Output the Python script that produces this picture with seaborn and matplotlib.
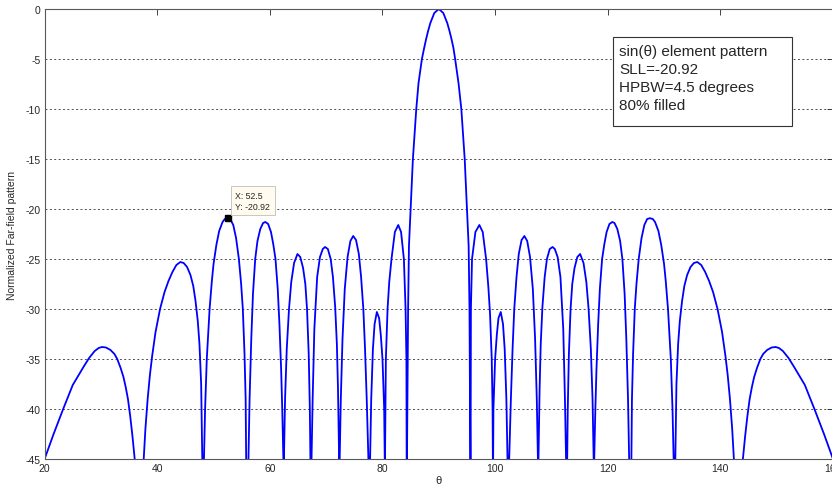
import numpy as np
import matplotlib
matplotlib.use("Agg")
import matplotlib.pyplot as plt
from matplotlib.patches import Rectangle
import seaborn as sns

# far-field pattern (theta in degrees, pattern in dB)
# one row per lobe; the -60 dB points sit in the nulls, below the visible range
theta_deg = [
    20.0, 21.6, 23.3, 25.0, 26.9, 27.9, 28.9, 29.6, 30.2, 30.9, 31.7, 32.4, 32.9, 33.5, 34.0, 34.4, 34.8, 35.2, 35.6, 36.0, 36.8,
    37.6, 37.9, 38.3, 38.7, 39.1, 39.7, 40.5, 41.3, 42.0, 42.7, 43.4, 44.1, 44.7, 45.3, 45.9, 46.4, 46.8, 47.2, 47.5, 47.8, 48.0, 48.15,
    48.3, 48.5, 48.8, 49.3, 49.7, 50.0, 50.5, 51.0, 51.6, 52.0, 52.5, 53.0, 53.5, 54.0, 54.5, 54.9, 55.2, 55.5, 55.7, 55.8, 56.0,
    56.2, 56.4, 56.7, 57.0, 57.4, 57.8, 58.3, 58.8, 59.2, 59.7, 60.2, 60.6, 61.0, 61.4, 61.7, 62.0, 62.2, 62.4, 62.45,
    62.5, 62.7, 63.0, 63.4, 63.8, 64.3, 64.9, 65.4, 65.9, 66.3, 66.6, 66.9, 67.1, 67.2, 67.3,
    67.4, 67.6, 67.9, 68.4, 68.9, 69.4, 69.8, 70.3, 70.8, 71.2, 71.6, 71.9, 72.1, 72.3, 72.35,
    72.4, 72.6, 72.9, 73.3, 73.8, 74.3, 74.8, 75.3, 75.8, 76.2, 76.6, 76.9, 77.2, 77.5, 77.65,
    77.8, 78.0, 78.3, 78.6, 79.0, 79.4, 79.7, 80.0, 80.3, 80.4, 80.42,
    80.45, 80.6, 80.9, 81.2, 81.6, 82.2, 82.8, 83.3, 83.8, 84.1, 84.25, 84.3, 84.32,
    84.35, 84.55, 84.7, 85.0, 85.4, 86.0, 86.4, 87.0, 87.4, 87.75, 88.1, 88.5, 89.2, 90.0,
    90.8, 91.5, 91.9, 92.25, 92.6, 92.9, 93.5, 94.0, 94.6, 95.0, 95.3, 95.45, 95.6, 95.62,
    95.65, 95.7, 95.9, 96.5, 97.2, 97.8, 98.4, 98.8, 99.1, 99.4, 99.55, 99.6, 99.62,
    99.65, 99.7, 100.0, 100.3, 100.6, 101.0, 101.4, 101.7, 102.0, 102.2, 102.35,
    102.5, 102.8, 103.1, 103.4, 103.8, 104.2, 104.7, 105.2, 105.7, 106.2, 106.7, 107.1, 107.4, 107.6, 107.65,
    107.7, 107.9, 108.1, 108.4, 108.8, 109.2, 109.7, 110.2, 110.6, 111.1, 111.6, 112.1, 112.4, 112.6, 112.65,
    112.8, 112.9, 113.1, 113.4, 113.7, 114.1, 114.6, 115.1, 115.7, 116.2, 116.6, 117.0, 117.3, 117.5, 117.55,
    117.6, 117.8, 118.0, 118.3, 118.6, 119.0, 119.4, 119.8, 120.3, 120.8, 121.2, 121.7, 122.2, 122.6, 123.0, 123.3, 123.6, 123.8, 124.0,
    124.2, 124.3, 124.5, 124.8, 125.1, 125.5, 126.0, 126.5, 127.0, 127.5, 128.0, 128.4, 129.0, 129.5, 130.0, 130.3, 130.7, 131.2, 131.5, 131.7, 131.85,
    132.0, 132.2, 132.5, 132.8, 133.2, 133.6, 134.1, 134.7, 135.3, 135.9, 136.6, 137.3, 138.0, 138.7, 139.5, 140.3, 140.9, 141.3, 141.7, 142.1, 142.4, 143.2,
    144.0, 144.4, 144.8, 145.2, 145.6, 146.0, 146.5, 147.1, 147.6, 148.3, 149.1, 149.8, 150.4, 151.1, 152.1, 153.1, 155.0, 156.7, 158.4, 160.0,
]
pattern_db = [
    -45.0, -42.5, -40.0, -37.6, -35.8, -34.9, -34.2, -33.9, -33.8, -33.85, -34.1, -34.5, -35.0, -35.9, -36.8, -37.8, -39.0, -40.7, -42.7, -45.0, -60.0,
    -45.0, -42.0, -39.0, -36.6, -34.7, -32.3, -30.0, -28.3, -27.2, -26.3, -25.6, -25.3, -25.4, -25.8, -26.6, -27.7, -29.2, -31.2, -33.5, -37.5, -45.0, -60.0,
    -45.0, -40.0, -35.0, -30.0, -27.2, -25.5, -23.6, -22.2, -21.3, -21.0, -20.92, -21.05, -21.6, -22.9, -25.0, -27.5, -30.0, -34.5, -39.0, -45.0, -60.0,
    -45.0, -39.0, -33.0, -28.5, -25.0, -23.2, -22.0, -21.4, -21.3, -21.5, -22.3, -23.5, -25.0, -28.0, -31.5, -36.0, -40.0, -45.0, -60.0,
    -45.0, -39.0, -34.0, -30.0, -27.3, -25.4, -24.5, -24.8, -25.9, -27.5, -30.0, -34.5, -40.0, -45.0, -60.0,
    -45.0, -39.0, -32.0, -26.8, -24.8, -24.0, -23.8, -24.0, -25.0, -26.8, -29.8, -33.5, -38.0, -45.0, -60.0,
    -45.0, -39.0, -33.0, -28.0, -24.8, -23.2, -22.7, -23.1, -24.5, -26.8, -30.0, -34.0, -39.0, -45.0, -60.0,
    -45.0, -39.0, -34.0, -31.5, -30.3, -30.9, -32.6, -35.0, -40.0, -45.0, -60.0,
    -45.0, -35.0, -30.0, -27.3, -25.0, -22.3, -21.6, -22.3, -25.0, -30.0, -35.0, -45.0, -60.0,
    -45.0, -30.0, -23.7, -20.0, -15.0, -10.0, -7.4, -5.0, -3.9, -3.0, -2.2, -1.4, -0.4, 0.0,
    -0.4, -1.4, -2.2, -3.0, -3.9, -5.0, -7.4, -10.0, -15.0, -20.0, -23.7, -30.0, -45.0, -60.0,
    -45.0, -30.0, -25.0, -22.3, -21.6, -22.3, -25.0, -27.8, -30.5, -35.0, -40.0, -45.0, -60.0,
    -45.0, -40.0, -35.0, -32.6, -30.9, -30.3, -31.5, -34.0, -39.0, -45.0, -60.0,
    -45.0, -39.0, -34.0, -30.0, -26.8, -24.5, -23.1, -22.7, -23.2, -24.8, -28.0, -33.0, -39.0, -45.0, -60.0,
    -45.0, -38.0, -33.5, -29.8, -26.8, -25.0, -24.0, -23.8, -24.0, -24.8, -26.8, -32.0, -39.0, -45.0, -60.0,
    -45.0, -40.0, -34.5, -30.0, -27.5, -25.9, -24.8, -24.5, -25.4, -27.3, -30.0, -34.0, -39.0, -45.0, -60.0,
    -45.0, -40.0, -36.0, -31.5, -28.0, -25.0, -23.5, -22.3, -21.5, -21.3, -21.4, -22.0, -23.2, -25.0, -28.5, -33.0, -39.0, -45.0, -60.0,
    -45.0, -39.0, -34.5, -30.0, -27.5, -25.0, -22.9, -21.6, -21.0, -20.92, -21.0, -21.3, -22.2, -23.6, -25.5, -27.2, -30.0, -35.0, -40.0, -45.0, -60.0,
    -45.0, -37.5, -33.5, -31.2, -29.2, -27.7, -26.6, -25.8, -25.4, -25.3, -25.6, -26.3, -27.2, -28.3, -30.0, -32.3, -34.7, -36.6, -39.0, -42.0, -45.0, -60.0,
    -45.0, -42.7, -40.7, -39.0, -37.8, -36.8, -35.9, -35.0, -34.5, -34.1, -33.85, -33.8, -33.9, -34.2, -34.9, -35.8, -37.6, -40.0, -42.5, -45.0,
]
assert len(theta_deg) == len(pattern_db)

tip_x = 52.5
tip_y = -20.92
info_lines = ["sin(\u03b8) element pattern", "SLL=-20.92", "HPBW=4.5 degrees", "80% filled"]

sns.set_style("white")
plt.rcParams['font.family'] = ['Liberation Sans', 'DejaVu Sans']
plt.rcParams['axes.unicode_minus'] = False

W, H = 832, 489
fig = plt.figure(figsize=(W / 100, H / 100), dpi=100)
ax = fig.add_axes([44.6 / W, (H - 460) / H, (833 - 44.6) / W, 450 / H])

sns.lineplot(x=theta_deg, y=pattern_db, color='#0000ff', linewidth=1.3,
             estimator=None, sort=False, ax=ax)

ax.set_xlim(20, 160)
ax.set_ylim(-45, 0)
ax.set_xticks(np.arange(20, 161, 20))
ax.set_yticks(np.arange(-45, 1, 5))
ax.tick_params(direction='in', length=4, width=0.6, labelsize=7.5, colors='0.15',
               top=True, right=True, pad=3)
for s in ax.spines.values():
    s.set_color('0.35')
    s.set_linewidth(0.8)
ax.yaxis.grid(True, linestyle=(0, (2, 2.5)), color='0.3', linewidth=0.7)
ax.xaxis.grid(False)
ax.set_xlabel('\u03b8', fontsize=8, labelpad=1)
ax.set_ylabel('Normalized Far-field pattern', fontsize=7.5, labelpad=6)

# data tip
ax.plot([tip_x], [tip_y], marker='s', color='black', markersize=4.5, linestyle='none')
ax.annotate('X: 52.5\nY: -20.92', xy=(tip_x, tip_y), xytext=(5.5, 5.5), textcoords='offset points',
            fontsize=6.3, va='bottom', ha='left', linespacing=1.25,
            bbox=dict(boxstyle='square,pad=0.5', fc='#fffbee', ec='0.75', lw=0.6))

# info box
x0, y0, x1, y1 = 613.3 / W, 1 - 126.7 / H, 792.3 / W, 1 - 37.7 / H
fig.patches.append(Rectangle((x0, y0), x1 - x0, y1 - y0, transform=fig.transFigure,
                             fc='white', ec='0.2', lw=0.8, zorder=5))
fig.text(619 / W, 1 - 45 / H, '\n'.join(info_lines), fontsize=11, va='top', ha='left',
         linespacing=1.36, zorder=6)

plt.savefig('out.png', dpi=100)
